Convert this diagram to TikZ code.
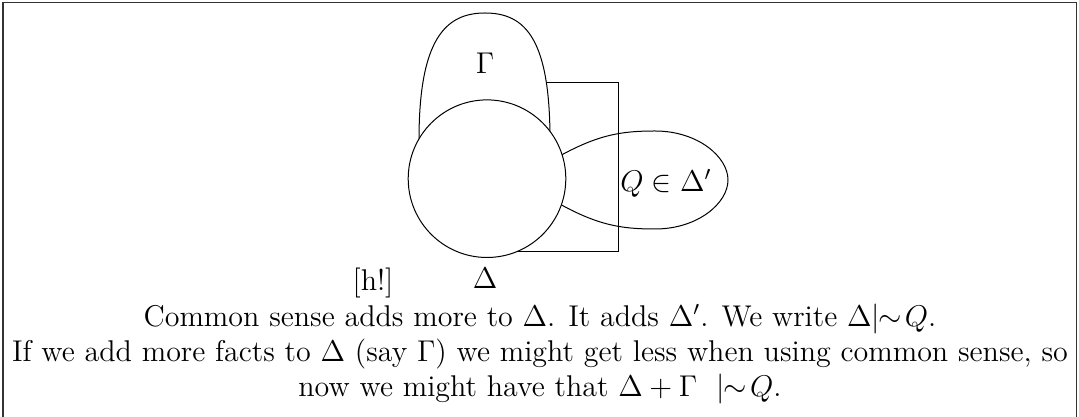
\documentclass[tikz,border=0pt]{standalone}
\usepackage{amssymb}
\tikzset{
  every node/.style={font=\fontsize{12}{14}\selectfont, inner sep=0pt},
  blob/.style={draw, fill=white},
}
\begin{document}
\begin{tikzpicture}[x=0.4pt,y=-0.4pt]
    \useasboundingbox (0,0) rectangle (1079,417);
    % frame
    \draw[line width=0.6pt, black!80] (3,2.5) -- (1076.5,2.5);
    \draw[line width=0.6pt, black!80] (3,2.5) -- (3,430);
    \draw[line width=0.6pt, black!80] (1076.5,2.5) -- (1076.5,430);
    % box behind the sets
    \draw (500,83) rectangle (618,251.5);
    % the set Q lies in
    \draw (520,180) .. controls (585,138) and (610,131) .. (655,131)
        .. controls (698,131) and (728,157) .. (728,180)
        .. controls (728,203) and (698,229) .. (655,229)
        .. controls (610,229) and (585,222) .. cycle;
    % Gamma
    \draw[blob] (419,140) .. controls (419,40) and (445,13) .. (485,13)
        .. controls (526,13) and (550,40) .. (550,140)
        .. controls (550,220) and (419,220) .. cycle;
    % Delta
    \draw[blob] (487,178.7) circle (78.8);
    \node (gamma) at (485,63) {$\Gamma$};
    \node (q) at (666,183) {$Q\in\Delta'$};
    \node (delta) at (485,278) {$\Delta$};
    \node (opt) at (373,283) {[h!]};
    \node[align=center] (caption) at (540,354)
        {Common sense adds more to $\Delta$. It adds $\Delta'$. We write $\Delta|\!\!\sim\!Q$.\\
         If we add more facts to $\Delta$ (say $\Gamma$) we might get less when using common sense, so\\
         now we might have that $\Delta+\Gamma\ \ |\!\!\sim\!Q$.};
\end{tikzpicture}
\end{document}
